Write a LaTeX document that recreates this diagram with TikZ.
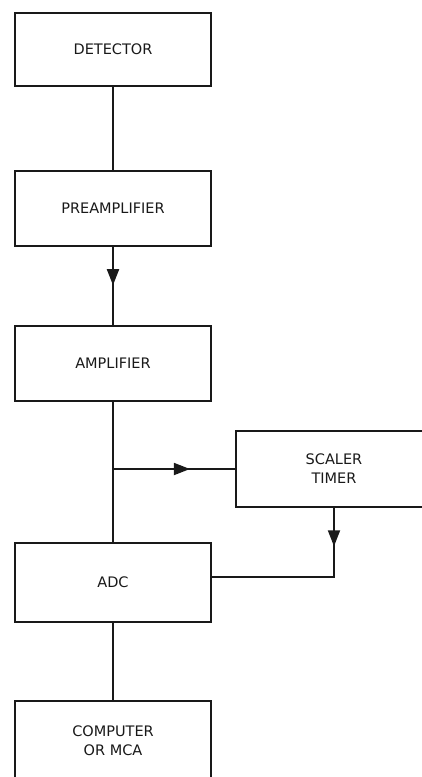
\documentclass[tikz,border=0pt]{standalone}
\usepackage{fontspec}
\setmainfont{DejaVu Sans}
\usetikzlibrary{arrows.meta,decorations.markings}

\begin{document}
\begin{tikzpicture}[
    x=1pt,
    y=-1pt,
    >={Triangle[length=16pt,width=12pt]},
    every node/.style={font=\fontsize{14.5}{19}\selectfont, text=black!90},
    block/.style={draw=black!90, line width=1.8pt, minimum width=196pt,
      minimum height=75pt, align=center, inner sep=0pt},
    wire/.style={draw=black!90, line width=1.8pt},
    midarrow/.style={postaction={decorate},
      decoration={markings, mark=at position #1 with {\arrow{>}}}}
  ]

  % --- 1. 描画範囲 ---
  \useasboundingbox (0,0) rectangle (422,777);
  \clip (0,0) rectangle (422,777);

  % --- 2. ブロック ---
  \node[block, minimum height=73pt] (det) at (113, 49.5) {DETECTOR};
  \node[block] (preamp) at (113, 208.5) {PREAMPLIFIER};
  \node[block] (amp) at (113, 363.5) {AMPLIFIER};
  \node[block, minimum height=76pt] (scaler) at (334, 469) {SCALER\\TIMER};
  \node[block, minimum height=79pt] (adc) at (113, 582.5) {ADC};
  \node[block, minimum height=80pt] (comp) at (113, 741) {COMPUTER\\OR MCA};

  % --- 3. 分岐点 ---
  \coordinate (tap) at (amp.south |- scaler.west);
  \coordinate (adcr) at (211, 577);

  % --- 4. 接続線 ---
  \draw[wire] (det.south) -- (preamp.north);
  \draw[wire, midarrow=0.49] (preamp.south) -- (amp.north);
  \draw[wire] (amp.south) -- (adc.north);
  \draw[wire, midarrow=0.63] (tap) -- (scaler.west);
  \draw[wire, midarrow=0.2] (scaler.south) |- (adcr);
  \draw[wire] (adc.south) -- (comp.north);

\end{tikzpicture}
\end{document}
